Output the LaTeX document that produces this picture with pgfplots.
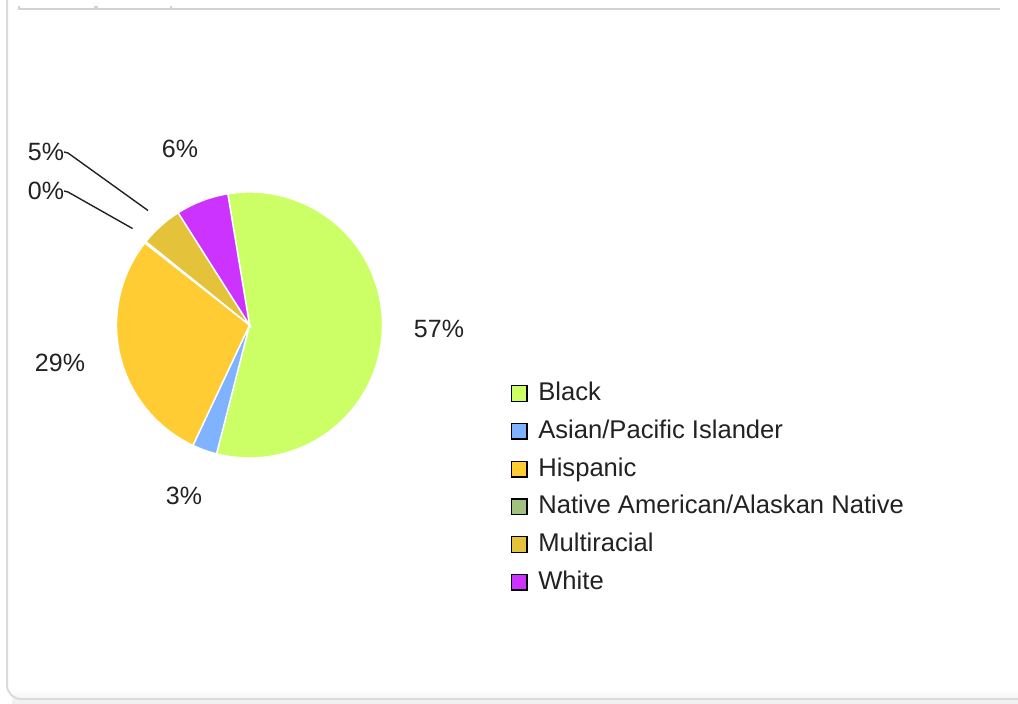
\documentclass[border=0pt]{standalone}
\usepackage{pgfplots}
\pgfplotsset{compat=1.18}
\usepackage{fontspec}
\setmainfont{Liberation Sans}
\definecolor{cBlack}{HTML}{CCFF66}
\definecolor{cAsian}{HTML}{80B3FF}
\definecolor{cHisp}{HTML}{FFCC33}
\definecolor{cNative}{HTML}{A0C27E}
\definecolor{cMulti}{HTML}{E4C23A}
\definecolor{cWhite}{HTML}{CC33FF}
\definecolor{frameg}{HTML}{D2D2D2}
\definecolor{txt}{HTML}{222222}
% shares in percent
\def\vB{56.6}
\def\vA{3.0}
\def\vH{28.6}
\def\vN{0.2}
\def\vM{5.2}
\def\vW{6.4}
% cumulative angles (clockwise from the start angle)
\pgfmathsetmacro\aO{99.4}
\pgfmathsetmacro\aB{\aO-3.6*\vB}
\pgfmathsetmacro\aA{\aB-3.6*\vA}
\pgfmathsetmacro\aH{\aA-3.6*\vH}
\pgfmathsetmacro\aN{\aH-3.6*\vN}
\pgfmathsetmacro\aM{\aN-3.6*\vM}
\pgfmathsetmacro\aW{\aM-3.6*\vW}
\def\R{66.5pt}
\begin{document}
\begin{tikzpicture}
\path[use as bounding box, fill=white] (0,0) rectangle (509pt,351.5pt);
\begin{axis}[at={(0,0)}, anchor=south west, scale only axis,
  width=509pt, height=351.5pt, xmin=0, xmax=1018, ymin=0, ymax=703,
  hide axis, clip=false,
  legend image code/.code={\draw[#1,draw=black,line width=0.7pt] (0pt,-0.4pt) rectangle (7.8pt,7.4pt);},
  legend style={at={(axis cs:510.5,321)}, anchor=north west, draw=none, fill=none,
    inner sep=0pt, outer sep=0pt, row sep=8.1pt,
    font=\fontsize{12.8}{15}\selectfont, text=txt,
    nodes={inner sep=0pt, anchor=base west},
    /tikz/every odd column/.append style={column sep=5.4pt}},
  legend cell align=left]
% card frame
\shade[top color=white, bottom color=black!6] (12,0) rectangle (1018,14);
\draw[frameg, line width=1pt] (18,694) -- (1000,694);
\draw[frameg, line width=0.6pt] (19,694) -- (19,697) (95,694) -- (95,697) (97,694) -- (97,697) (171,694) -- (171,697);
\draw[frameg!80, line width=1pt] (7,703) -- (7,18) arc[start angle=180, end angle=270, radius=7pt] -- (1018,4);
% slices
\addplot[fill=cBlack, draw=white, line width=0.7pt] coordinates {(249.5,378)} -- ++(\aO:\R) arc[start angle=\aO, end angle=\aB, radius=\R] -- cycle;
\addlegendentry{Black}
\addplot[fill=cAsian, draw=white, line width=0.7pt] coordinates {(249.5,378)} -- ++(\aB:\R) arc[start angle=\aB, end angle=\aA, radius=\R] -- cycle;
\addlegendentry{Asian/Pacific Islander}
\addplot[fill=cHisp, draw=white, line width=0.7pt] coordinates {(249.5,378)} -- ++(\aA:\R) arc[start angle=\aA, end angle=\aH, radius=\R] -- cycle;
\addlegendentry{Hispanic}
\addplot[fill=cNative, draw=white, line width=0.7pt] coordinates {(249.5,378)} -- ++(\aH:\R) arc[start angle=\aH, end angle=\aN, radius=\R] -- cycle;
\addlegendentry{Native American/Alaskan Native}
\addplot[fill=cMulti, draw=white, line width=0.7pt] coordinates {(249.5,378)} -- ++(\aN:\R) arc[start angle=\aN, end angle=\aM, radius=\R] -- cycle;
\addlegendentry{Multiracial}
\addplot[fill=cWhite, draw=white, line width=0.7pt] coordinates {(249.5,378)} -- ++(\aM:\R) arc[start angle=\aM, end angle=\aW, radius=\R] -- cycle;
\addlegendentry{White}
% percentage labels
\begin{scope}[every node/.style={font=\fontsize{12.5}{14}\selectfont, text=txt, inner sep=0pt}]
\node at (axis cs:439,374.5) {57\%};
\node at (axis cs:60,340) {29\%};
\node at (axis cs:184,207) {3\%};
\node at (axis cs:180,554) {6\%};
\node at (axis cs:46,551) {5\%};
\node at (axis cs:46,512) {0\%};
\end{scope}
\draw[txt, line width=0.7pt] (axis cs:64,551) -- (axis cs:68,550) -- (axis cs:148,492.5);
\draw[txt, line width=0.7pt] (axis cs:64,512) -- (axis cs:68,511) -- (axis cs:132.5,474.5);
\end{axis}
\end{tikzpicture}
\end{document}
